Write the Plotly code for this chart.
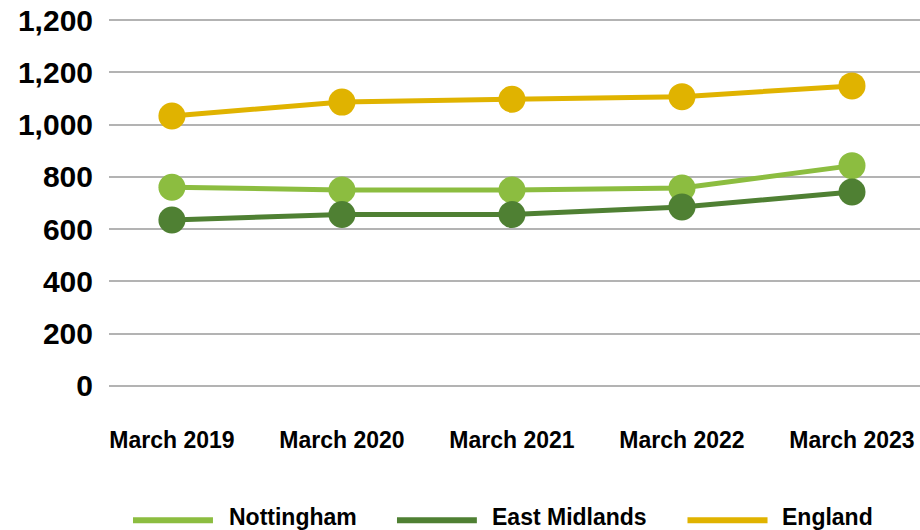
import plotly.graph_objects as go

categories = ["March 2019", "March 2020", "March 2021", "March 2022", "March 2023"]
nottingham = [760, 750, 750, 757, 843]
east_midlands = [635, 656, 656, 685, 742]
england = [1033, 1086, 1097, 1107, 1148]

series_names = ["Nottingham", "East Midlands", "England"]
series_colors = ["#8CBD40", "#4F8033", "#E0B300"]

y_tickvals = [0, 200, 400, 600, 800, 1000, 1200, 1400]
y_ticktext = ["0", "200", "400", "600", "800", "1,000", "1,200", "1,200"]

FONT = "Liberation Sans, Arial, sans-serif"

fig = go.Figure()
for name, vals, col in zip(series_names, [nottingham, east_midlands, england], series_colors):
    fig.add_trace(go.Scatter(
        x=categories, y=vals, name=name, mode="lines+markers",
        line=dict(color=col, width=5),
        marker=dict(color=col, size=27),
        cliponaxis=False, showlegend=False,
    ))

# custom legend (longer line swatches like the reference)
legend_items = [(0.0296, 0.1282, 0.1455), (0.3551, 0.4536, 0.4698), (0.7133, 0.8120, 0.8274)]
for (x0, x1, xt), name, col in zip(legend_items, series_names, series_colors):
    fig.add_shape(type="line", xref="paper", yref="paper", x0=x0, x1=x1, y0=-0.362, y1=-0.362,
                  line=dict(color=col, width=6))
    fig.add_annotation(xref="paper", yref="paper", x=xt, y=-0.352, text=f"<b>{name}</b>",
                       showarrow=False, xanchor="left", yanchor="middle",
                       font=dict(family=FONT, size=23, color="#000"))

fig.update_layout(
    width=920, height=530,
    margin=dict(l=109, r=0, t=19, b=143),
    paper_bgcolor="white", plot_bgcolor="white",
    font=dict(family=FONT, color="#000"),
    xaxis=dict(
        type="category", range=[-0.37, 4.4], showgrid=False, showline=False, zeroline=False,
        tickfont=dict(family=FONT, size=23, color="#000", weight="bold"),
        ticklabelstandoff=37,
    ),
    yaxis=dict(
        range=[-4, 1404], tickvals=y_tickvals, ticktext=y_ticktext,
        showgrid=True, gridcolor="#B3B3B3", gridwidth=1.5, zeroline=False, showline=False,
        tickfont=dict(family=FONT, size=30, color="#000", weight="bold"),
        ticklabelstandoff=15,
    ),
)

fig.write_html("out.html", config={"displayModeBar": False},
               post_script="document.body.style.margin='0';document.body.style.overflow='hidden';")
